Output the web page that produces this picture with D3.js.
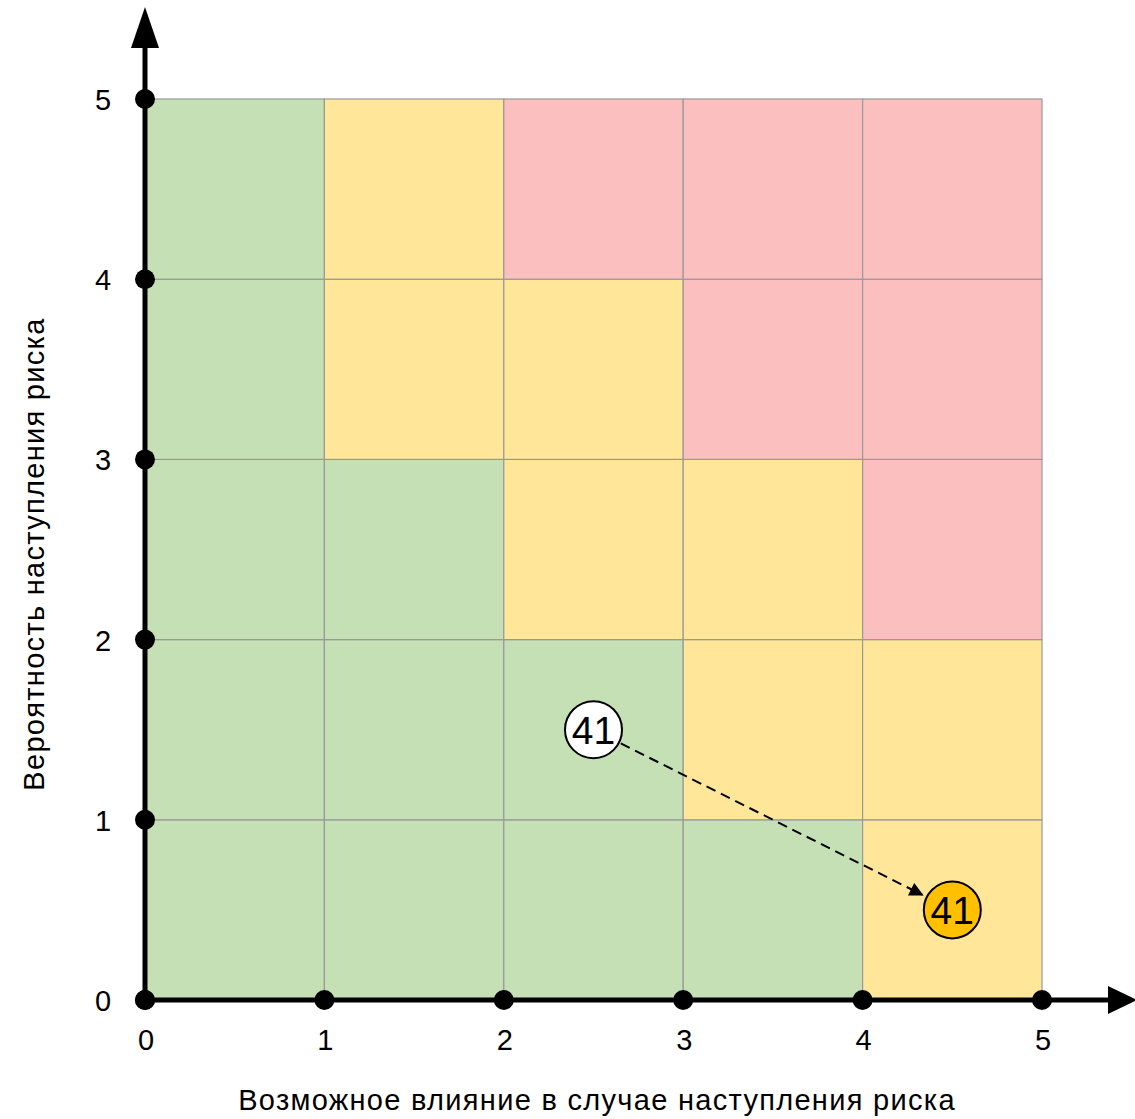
<!DOCTYPE html>
<html>
<head>
<meta charset="utf-8">
<script src="https://d3js.org/d3.v7.min.js"></script>
<style>
  body { margin: 0; background: #fff; }
  text { font-family: "Liberation Sans", Arial, sans-serif; }
</style>
</head>
<body>
<svg id="matrix" width="1135" height="1119"></svg>
<script>
// values
const ticks = [0, 1, 2, 3, 4, 5];
// risk zone per cell, rows from bottom (y 0-1) to top (y 4-5), cols x 0..4
const zones = [
  ["g", "g", "g", "g", "y"],
  ["g", "g", "g", "y", "y"],
  ["g", "g", "y", "y", "r"],
  ["g", "y", "y", "r", "r"],
  ["g", "y", "r", "r", "r"]
];
const zoneColor = { g: "#C5E0B4", y: "#FFE699", r: "#FBBFBF" };
const riskFrom = { id: "41", x: 2.5, y: 1.5 };
const riskTo = { id: "41", x: 4.5, y: 0.5 };
const xTitle = "Возможное влияние в случае наступления риска";
const yTitle = "Вероятность наступления риска";

let svg = d3.select("svg#matrix");

let xscale = d3.scaleLinear().domain([0, 5]).range([145, 1042]);
let yscale = d3.scaleLinear().domain([0, 5]).range([1000, 99]);

// cells
let cells = [];
zones.forEach((row, r) => row.forEach((z, c) => cells.push({ r: r, c: c, z: z })));
svg.selectAll("rect.cell")
  .data(cells)
  .enter().append("rect")
  .attr("class", "cell")
  .attr("x", d => xscale(d.c))
  .attr("y", d => yscale(d.r + 1))
  .attr("width", d => xscale(d.c + 1) - xscale(d.c))
  .attr("height", d => yscale(d.r) - yscale(d.r + 1))
  .style("fill", d => zoneColor[d.z])
  .style("stroke", "#999")
  .style("stroke-width", 1.2);

// axes
let defs = svg.append("defs");
defs.append("marker")
  .attr("id", "dash-arrow")
  .attr("viewBox", "0 0 10 10")
  .attr("refX", 9).attr("refY", 5)
  .attr("markerWidth", 8).attr("markerHeight", 7)
  .attr("markerUnits", "strokeWidth")
  .attr("orient", "auto")
  .append("path").attr("d", "M0,0 L10,5 L0,10 z").style("fill", "black");

svg.append("line")
  .attr("x1", xscale(0)).attr("x2", 1112)
  .attr("y1", yscale(0)).attr("y2", yscale(0))
  .style("stroke", "black").style("stroke-width", 5);
svg.append("path")
  .attr("d", `M1108,${yscale(0) - 14} L1137,${yscale(0)} L1108,${yscale(0) + 14} Z`)
  .style("fill", "black");

svg.append("line")
  .attr("x1", xscale(0)).attr("x2", xscale(0))
  .attr("y1", yscale(0)).attr("y2", 45)
  .style("stroke", "black").style("stroke-width", 5);
svg.append("path")
  .attr("d", `M${xscale(0) - 14},48 L${xscale(0)},7 L${xscale(0) + 14},48 Z`)
  .style("fill", "black");

// tick dots and labels
svg.selectAll("circle.xdot").data(ticks).enter().append("circle")
  .attr("cx", d => xscale(d)).attr("cy", yscale(0)).attr("r", 10).style("fill", "black");
svg.selectAll("circle.ydot").data(ticks).enter().append("circle")
  .attr("cx", xscale(0)).attr("cy", d => yscale(d)).attr("r", 10).style("fill", "black");

svg.selectAll("text.xt").data(ticks).enter().append("text")
  .text(d => d)
  .attr("x", d => xscale(d) + 1).attr("y", 1050)
  .style("font-size", "29px").style("text-anchor", "middle");
svg.selectAll("text.yt").data(ticks).enter().append("text")
  .text(d => d)
  .attr("x", 103).attr("y", d => yscale(d) + 11)
  .style("font-size", "29px").style("text-anchor", "middle");

svg.append("text").text(xTitle)
  .attr("x", 597).attr("y", 1110)
  .style("font-size", "29px").style("letter-spacing", "1.3px")
  .style("text-anchor", "middle");
svg.append("text").text(yTitle)
  .attr("transform", "translate(44,554) rotate(-90)")
  .style("font-size", "29px").style("letter-spacing", "1.3px")
  .style("text-anchor", "middle");

// risk movement
let r = 28.5;
let x1 = xscale(riskFrom.x), y1 = yscale(riskFrom.y);
let x2 = xscale(riskTo.x), y2 = yscale(riskTo.y);
let ang = Math.atan2(y2 - y1, x2 - x1);
svg.append("line")
  .attr("x1", x1 + (r + 2) * Math.cos(ang)).attr("y1", y1 + (r + 2) * Math.sin(ang))
  .attr("x2", x2 - (r + 5) * Math.cos(ang)).attr("y2", y2 - (r + 5) * Math.sin(ang))
  .style("stroke", "black").style("stroke-width", 2)
  .style("stroke-dasharray", "10,6")
  .attr("marker-end", "url(#dash-arrow)");

[[riskFrom, "white"], [riskTo, "#FFC000"]].forEach(([d, fill]) => {
  svg.append("circle")
    .attr("cx", xscale(d.x)).attr("cy", yscale(d.y)).attr("r", r)
    .style("fill", fill).style("stroke", "black").style("stroke-width", 2);
  svg.append("text").text(d.id)
    .attr("x", xscale(d.x)).attr("y", yscale(d.y) + 14)
    .style("font-size", "39px").style("text-anchor", "middle");
});
</script>
</body>
</html>
